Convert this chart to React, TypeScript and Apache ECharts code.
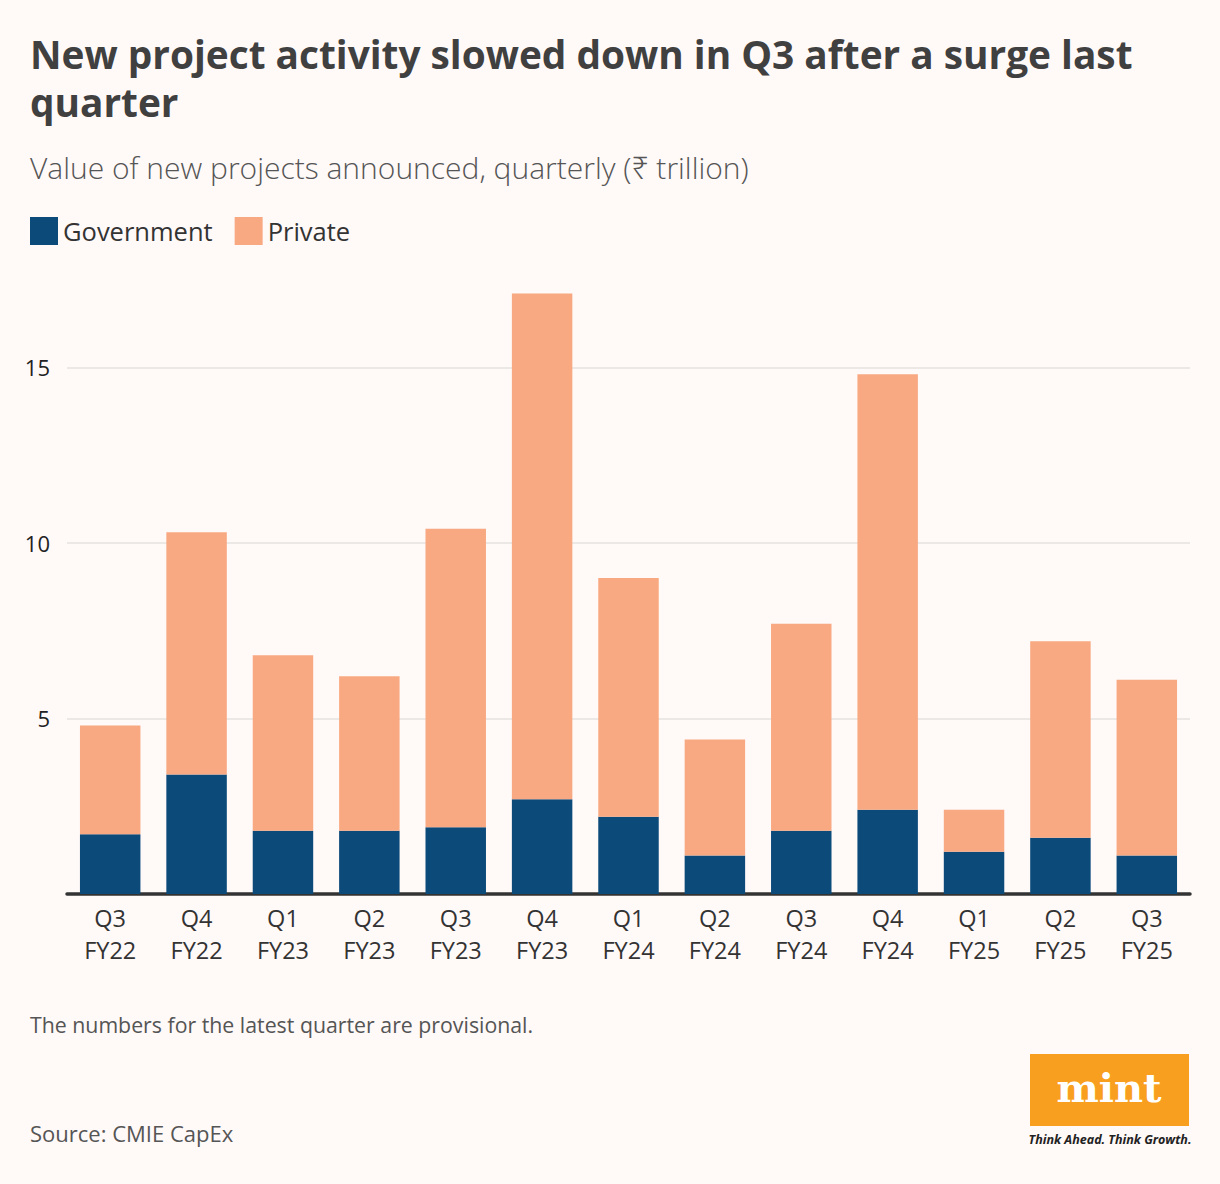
import React, { useEffect, useRef } from "react";
import * as echarts from "echarts";

const categories = ["Q3\nFY22", "Q4\nFY22", "Q1\nFY23", "Q2\nFY23", "Q3\nFY23", "Q4\nFY23", "Q1\nFY24", "Q2\nFY24", "Q3\nFY24", "Q4\nFY24", "Q1\nFY25", "Q2\nFY25", "Q3\nFY25"];
const government = [1.7, 3.4, 1.8, 1.8, 1.9, 2.7, 2.2, 1.1, 1.8, 2.4, 1.2, 1.6, 1.1];
const privateVals = [3.1, 6.9, 5.0, 4.4, 8.5, 14.4, 6.8, 3.3, 5.9, 12.4, 1.2, 5.6, 5.0];

const FONT = "'Open Sans', 'Noto Sans', sans-serif";

export default function App() {
  const ref = useRef<HTMLDivElement>(null);
  useEffect(() => {
    if (!ref.current) return;
    const chart = echarts.init(ref.current, undefined, { renderer: "svg" });
    chart.setOption({
      animation: false,
      backgroundColor: "#fff9f8",
      textStyle: { fontFamily: FONT },
      legend: {
        left: 30,
        top: 217,
        padding: 0,
        itemWidth: 28,
        itemHeight: 28,
        itemGap: 22,
        icon: "rect",
        textStyle: { fontSize: 25.5, color: "#333", fontFamily: FONT },
        data: ["Government", "Private"],
      },
      grid: { left: 67, right: 30, top: 262, bottom: 290 },
      xAxis: {
        type: "category",
        data: categories,
        axisLine: { lineStyle: { color: "#333", width: 3.5 } },
        axisTick: { show: false },
        axisLabel: { interval: 0, fontSize: 23.5, lineHeight: 32, color: "#333", margin: 8, fontFamily: FONT },
      },
      yAxis: {
        type: "value",
        min: 0,
        max: 18,
        interval: 5,
        axisLine: { show: false },
        axisTick: { show: false },
        axisLabel: { fontSize: 22, color: "#222", margin: 17, showMinLabel: false, showMaxLabel: false, fontFamily: FONT },
        splitLine: { showMinLine: false, showMaxLine: false, lineStyle: { color: "#e4e2e1", width: 1.5 } },
      },
      series: [
        { name: "Government", type: "bar", stack: "t", data: government, barWidth: "70%", itemStyle: { color: "#0c4a7a" } },
        { name: "Private", type: "bar", stack: "t", data: privateVals, barWidth: "70%", itemStyle: { color: "#f8a982" } },
      ],
      graphic: [
        { type: "text", left: 30, top: 30, style: { text: "New project activity slowed down in Q3 after a surge last\nquarter", font: `bold 38.8px ${FONT}`, lineHeight: 48, fill: "#404040" } },
        { type: "text", left: 30, top: 152, style: { text: "Value of new projects announced, quarterly (₹ trillion)", font: `300 30px ${FONT}`, fill: "#555" } },
        { type: "text", left: 30, top: 1014, style: { text: "The numbers for the latest quarter are provisional.", font: `21.3px ${FONT}`, fill: "#555" } },
        { type: "text", left: 30, top: 1122, style: { text: "Source: CMIE CapEx", font: `22px ${FONT}`, fill: "#555" } },
        { type: "rect", shape: { x: 1030, y: 1054, width: 159, height: 72 }, style: { fill: "#f99f1f" } },
        { type: "text", x: 1109, y: 1087, style: { text: "mint", font: "bold 40px 'DejaVu Serif', serif", fill: "#fff", align: "center", verticalAlign: "middle" } },
        { type: "text", x: 1110, y: 1139, style: { text: "Think Ahead. Think Growth.", font: `italic bold 12.5px ${FONT}`, fill: "#222", align: "center", verticalAlign: "middle" } },
      ],
    });
    return () => chart.dispose();
  }, []);
  return <div ref={ref} style={{ position: "absolute", left: 0, top: 0, width: 1220, height: 1184 }} />;
}
